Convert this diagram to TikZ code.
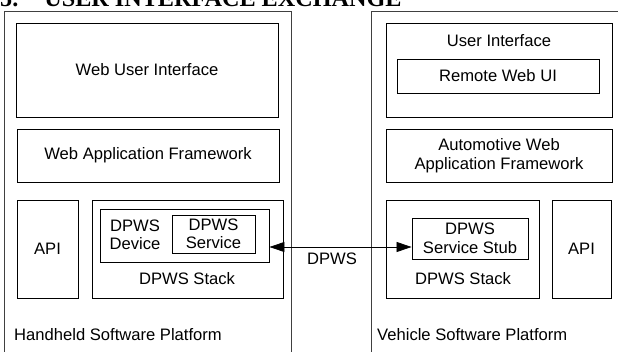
\documentclass[tikz,border=0pt]{standalone}
\usepackage{fontspec}
\setmainfont{Liberation Sans}
\newfontfamily\titlefont{Liberation Serif}
\usetikzlibrary{fit,arrows.meta}
\tikzset{
  box/.style={draw=black, line width=0.9pt, inner sep=0pt, align=center},
  outerbox/.style={draw=black!75, line width=0.9pt, inner sep=0pt},
  txt/.style={inner sep=0pt, align=center},
  conn/.style={line width=0.8pt, {Triangle[length=15pt,width=10pt]}-{Triangle[length=15pt,width=10pt]}}
}
\begin{document}
\begin{tikzpicture}[x=1pt,y=-1pt,font=\fontsize{16.6}{18.5}\selectfont]
\useasboundingbox (0,0) rectangle (618,352);
% title (cut off at top)
\node[inner sep=0pt, anchor=base west, font=\titlefont\bfseries\fontsize{24.2}{26}\selectfont] (title) at (0,7) {5.\hspace{26pt}USER INTERFACE EXCHANGE};
% outer platforms
\node[outerbox, fit={(4,11)(291,380)}] (hand) {};
\node[outerbox, fit={(371,11)(640,380)}] (veh) {};
% left side
\node[box, fit={(16,23)(278,117)}] (wui) {};
\node[txt] at (wui.center) {Web User Interface};
\node[box, fit={(17,129)(279,182)}] (waf) {};
\node[txt] at (waf.center) {Web Application Framework};
\node[box, fit={(17,200)(78,298)}] (apil) {};
\node[txt] at (apil.center) {API};
\node[box, fit={(92,200)(283,298)}] (stackl) {};
\node[txt] at (187,279) {DPWS Stack};
\node[box, fit={(100,209)(269,262)}] (dev) {};
\node[txt] at (135,235) {DPWS\\Device};
\node[box, fit={(172,215)(255,253)}] (svc) {};
\node[txt] at (svc.center) {DPWS\\Service};
\node[txt, anchor=west] (hlabel) at (14,335) {Handheld Software Platform};
% right side
\node[box, fit={(386,23)(612,117)}] (ui) {};
\node[txt] at (499,41) {User Interface};
\node[box, fit={(397,59)(599,93)}] (rwui) {};
\node[txt] at (rwui.center) {Remote Web UI};
\node[box, fit={(386,129)(612,182)}] (awaf) {};
\node[txt] at (awaf.center) {Automotive Web\\Application Framework};
\node[box, fit={(386,200)(539,298)}] (stackr) {};
\node[txt] at (463,279) {DPWS Stack};
\node[box, fit={(412,218)(528,259)}] (stub) {};
\node[txt] at (stub.center) {DPWS\\Service Stub};
\node[box, fit={(552,200)(611,298)}] (apir) {};
\node[txt] at (apir.center) {API};
\node[txt, anchor=west] (vlabel) at (377,335) {Vehicle Software Platform};
% connector
\coordinate (a1) at (dev.east |- 0,247);
\coordinate (a2) at (stub.west |- 0,247);
\draw[conn] (a1) -- (a2);
\node[txt] (dpws) at (332,259) {DPWS};
\end{tikzpicture}
\end{document}
